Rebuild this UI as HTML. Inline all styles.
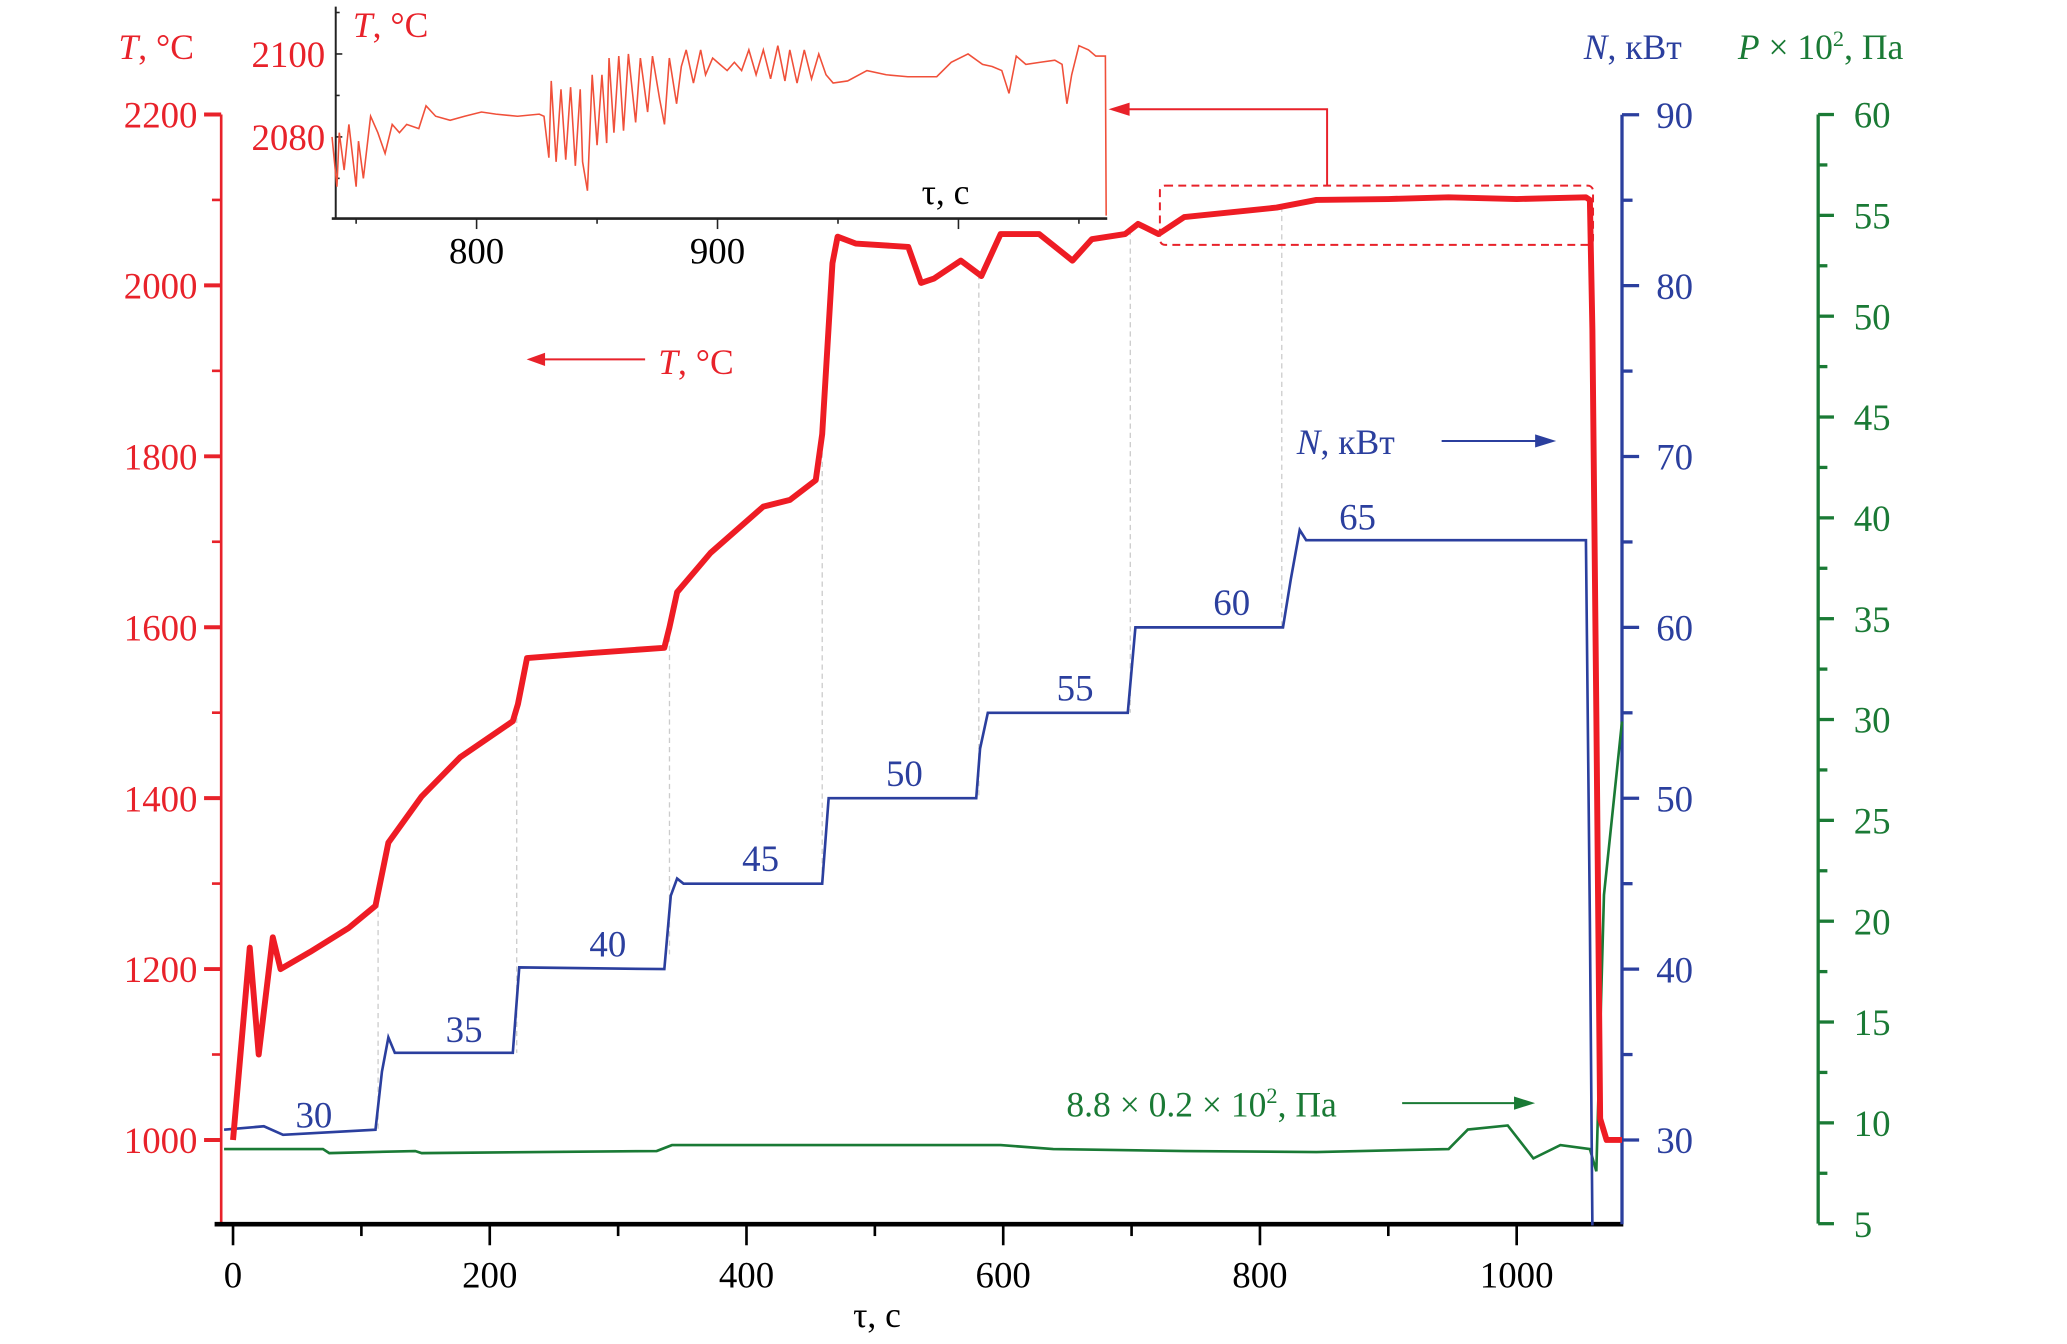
<!DOCTYPE html>
<html><head><meta charset="utf-8"><style>
html,body{margin:0;padding:0;background:#fff;}
svg{display:block;}
text{font-family:"Liberation Serif",serif;}
</style></head><body>
<svg id="chart" width="2067" height="1344" viewBox="0 0 1570 1021" preserveAspectRatio="none" xmlns="http://www.w3.org/2000/svg">
<g id="axes"></g>
<g id="guides"></g>
<g id="series"></g>
<g id="inset"></g>
<g id="annot">
  <text x="90" y="45" fill="#e8222a" font-size="27"><tspan font-style="italic">T</tspan>, °C</text>
  <text x="1203" y="45" fill="#2b3f9e" font-size="27"><tspan font-style="italic">N</tspan>, кВт</text>
  <text x="1320" y="45" fill="#1a7a35" font-size="27"><tspan font-style="italic">P</tspan> × 10<tspan font-size="17" dy="-10">2</tspan><tspan dy="10">, Па</tspan></text>
  <text x="648" y="1008" fill="#000" font-size="27">τ, с</text>
  <text x="268" y="28" fill="#e8222a" font-size="27"><tspan font-style="italic">T</tspan>, °C</text>
  <text x="700" y="155" fill="#000" font-size="27">τ, с</text>
  <g>
    <line x1="490" y1="273" x2="405" y2="273" stroke="#e8222a" stroke-width="1.5"/>
    <path d="M400,273 L414,268 L414,278 Z" fill="#e8222a"/>
    <text x="500" y="284" fill="#e8222a" font-size="27"><tspan font-style="italic">T</tspan>, °C</text>
  </g>
  <g>
    <text x="985" y="345" fill="#2b3f9e" font-size="27"><tspan font-style="italic">N</tspan>, кВт</text>
    <line x1="1095" y1="335" x2="1175" y2="335" stroke="#2b3f9e" stroke-width="1.5"/>
    <path d="M1182,335 L1166,330 L1166,340 Z" fill="#2b3f9e"/>
  </g>
  <g>
    <text x="810" y="848" fill="#1a7a35" font-size="27">8.8 × 0.2 × 10<tspan font-size="17" dy="-10">2</tspan><tspan dy="10">, Па</tspan></text>
    <line x1="1065" y1="838" x2="1158" y2="838" stroke="#1a7a35" stroke-width="1.5"/>
    <path d="M1166,838 L1150,833 L1150,843 Z" fill="#1a7a35"/>
  </g>
  <rect x="881" y="141" width="329" height="45" rx="4" fill="none" stroke="#e8222a" stroke-width="1.5" stroke-dasharray="6,4"/>
  <g>
    <polyline points="1008,141 1008,83 850,83" fill="none" stroke="#e8222a" stroke-width="1.5"/>
    <path d="M842,83 L858,78 L858,88 Z" fill="#e8222a"/>
  </g>
</g>
</svg>
<script>
// ===== main chart data =====
const tTime = [0,13,20,31,37,60,90,111,121,147,177,218,222,229,280,336,340,346,372,413,434,454,459,467,471,485,526,536,546,567,583,598,628,654,669,695,705,721,741,813,844,900,947,1000,1054,1057,1059,1062,1065,1070,1082];
const tVal  = [1000,1225,1100,1237,1200,1220,1248,1274,1348,1402,1448,1490,1510,1564,1570,1576,1600,1641,1687,1741,1749,1772,1826,2026,2057,2049,2045,2003,2008,2029,2011,2060,2060,2029,2054,2060,2072,2060,2080,2091,2100,2101,2103,2101,2103,2100,1949,1500,1025,1000,1000];
const nTime = [-7,24,39,111,116,121,126,218,223,336,341,346,351,459,464,579,582,588,697,703,818,824,831,836,1054,1057,1059];
const nVal  = [30.6,30.8,30.3,30.6,34,36,35.1,35.1,40.1,40,44.3,45.3,45,45,50,50,52.9,55,55,60,60,62.8,65.7,65.1,65.1,42.8,25];
const pTime = [-7,70,75,142,147,330,342,500,598,639,742,844,947,962,993,1013,1034,1057,1062,1068,1082];
const pVal  = [8.7,8.7,8.5,8.6,8.5,8.6,8.9,8.9,8.9,8.7,8.6,8.55,8.7,9.67,9.87,8.24,8.9,8.7,7.6,21.3,29.9];
const stepTimes = [113,221,340,459,581,699,817];
const stepLabels = ["30","35","40","45","50","55","60","65"];
const stepLabelT = [63,180,292,411,523,656,778,876];
const stepLabelN = [31.5,36.5,41.5,46.5,51.5,56.5,61.5,66.5];
const xTicks = [0,200,400,600,800,1000];
const tTicks = [1000,1200,1400,1600,1800,2000,2200];
const nTicks = [30,40,50,60,70,80,90];
const pTicks = [5,10,15,20,25,30,35,40,45,50,55,60];
// ===== inset data =====
const iTime = [740,742,743,745,747,750,751,753,756,759,762,765,768,771,776,779,783,789,795,802,808,817,826,828,830,831,833,835,837,839,841,843,844,846,848,850,852,854,855,857,859,861,863,866,868,871,873,876,878,880,883,885,887,890,893,895,898,901,904,907,910,913,916,919,922,925,928,930,933,936,939,942,945,948,954,962,970,979,991,997,1004,1010,1014,1018,1021,1024,1028,1034,1040,1043,1045,1047,1050,1054,1057,1061,1061.3];
const iVal  = [2080,2068,2081,2072,2083,2068,2079,2070,2085,2081,2076,2083,2081,2083,2082,2087.5,2085,2084,2085,2086,2085.5,2085,2085.5,2085,2075,2093.5,2074,2091.5,2074.5,2092,2073,2091.5,2074,2067,2095,2078,2095,2078.5,2099,2081,2099.5,2081.5,2100,2083.5,2099,2086,2099.5,2089,2083,2099,2088,2097,2101,2093,2101,2095,2099,2097.5,2096,2098,2096,2101,2095,2101,2094,2102,2093.5,2101,2093,2101,2094,2100,2095,2093,2093.5,2096,2095,2094.5,2094.5,2098,2100,2097.5,2097,2096,2090.5,2099.5,2097.5,2098,2098.5,2097.5,2088,2095,2102,2101,2099.5,2099.5,2061];
const iXTicks = [800,900];
const iTTicks = [2080,2100];

const NS = "http://www.w3.org/2000/svg";
const xS = t => 177 + t*0.975;
const yT = v => 866 - (v-1000)*0.6492;
const yN = v => 866 - (v-30)*12.98;
const yP = v => 853 - (v-10)*15.32;
const ixS = t => 362 + (t-800)*1.83;
const iyT = v => 104 - (v-2080)*3.15;

function mk(tag, attrs, parent){
  const e = document.createElementNS(NS, tag);
  for (const k in attrs) e.setAttribute(k, attrs[k]);
  parent.appendChild(e);
  return e;
}
function line(p,x1,y1,x2,y2,c,w){ return mk('line',{x1:x1,y1:y1,x2:x2,y2:y2,stroke:c,'stroke-width':w},p); }
function txt(p,x,y,s,c,size,anchor){ const e = mk('text',{x:x,y:y,fill:c,'font-size':size,'text-anchor':anchor||'start'},p); e.textContent=s; return e; }
function pathD(xs, ys, fx, fy){ return xs.map((t,i)=>(i?'L':'M')+fx(t).toFixed(1)+','+fy(ys[i]).toFixed(1)).join(' '); }
function interp(xs, ys, t){ for (let i=1; i < xs.length; i++){ if (t <= xs[i]){ const f=(t-xs[i-1])/(xs[i]-xs[i-1]); return ys[i-1]+f*(ys[i]-ys[i-1]); } } return ys[ys.length-1]; }

const axes = document.getElementById('axes');
const tAx = mk('g',{},axes);


line(tAx,168,yT(2200),168,930,'#e8222a',2);
for (let v=1000; v <= 2200; v+=100){ const maj = tTicks.includes(v); line(tAx, maj?155:161, yT(v), 168, yT(v), '#e8222a', maj?3:2); }
tTicks.forEach(v=>{ const e = txt(tAx,150,yT(v)+10,String(v),'#e8222a',28,'end');
  
   });
const xAx = mk('g',{},axes);


line(xAx,163,930,1233,930,'#000',3.5);
for (let t=0; t <= 1000; t+=100){ const maj = xTicks.includes(t); line(xAx,xS(t),930,xS(t),maj?946:939,'#000',2); }
xTicks.forEach(t=>{ const e = txt(xAx,xS(t),978,String(t),'#000',28,'middle');
  
   });
const nAx = mk('g',{},axes);


line(nAx,1232,yN(90),1232,930,'#2b3f9e',2.5);
for (let v=30; v <= 90; v+=5){ const maj = nTicks.includes(v); line(nAx,1232,yN(v),maj?1245:1240,yN(v),'#2b3f9e',2.5); }
nTicks.forEach(v=>{ const e = txt(nAx,1258,yN(v)+10,String(v),'#2b3f9e',28);
  
   });
const pAx = mk('g',{},axes);


line(pAx,1381,yP(60),1381,yP(5),'#1a7a35',2.5);
for (let v=5; v <= 60; v+=2.5){ const maj = pTicks.includes(v); line(pAx,1381,yP(v),maj?1393:1388,yP(v),'#1a7a35',2.5); }
pTicks.forEach(v=>{ const e = txt(pAx,1408,yP(v)+10,String(v),'#1a7a35',28);
  
   });

const guides = document.getElementById('guides');
stepTimes.forEach(t=>{
  const e = line(guides,xS(t),yT(interp(tTime,tVal,t)),xS(t),yN(interp(nTime,nVal,t-3)),'#cccccc',1);
  e.setAttribute('stroke-dasharray','4,3');
  
  
});

const ser = document.getElementById('series');
const pP = mk('path',{d:pathD(pTime,pVal,xS,yP),fill:'none',stroke:'#1a7a35','stroke-width':2},ser);


const nP = mk('path',{d:pathD(nTime,nVal,xS,yN),fill:'none',stroke:'#2b3f9e','stroke-width':2},ser);


const tP = mk('path',{d:pathD(tTime,tVal,xS,yT),fill:'none',stroke:'#ee1c24','stroke-width':4.5,'stroke-linejoin':'round'},ser);


stepLabels.forEach((s,i)=>{
  const e = txt(ser,xS(stepLabelT[i]),yN(stepLabelN[i])+10,s,'#2b3f9e',28,'middle');
  
  
});

const ins = document.getElementById('inset');
mk('rect',{x:250,y:0,width:595,height:170,fill:'#fff'},ins);
line(ins,255,5,255,166,'#222',1.5);
line(ins,252,166,841,166,'#222',2);
for (let t=750; t <= 1050; t+=50){ const maj = (t%100===0); line(ins,ixS(t),166,ixS(t),maj?174:170,'#222',1.2); }
for (let v=2070; v <= 2110; v+=10){ const maj = iTTicks.includes(v); line(ins,255,iyT(v),maj?260:258,iyT(v),'#222',1.2); }
iXTicks.forEach(t=>{ const e = txt(ins,ixS(t),200,String(t),'#000',28,'middle');
  
   });
iTTicks.forEach(v=>{ const e = txt(ins,247,iyT(v)+10,String(v),'#e8222a',28,'end');
  
   });
const iP = mk('path',{d:pathD(iTime,iVal,ixS,iyT),fill:'none',stroke:'#f0503a','stroke-width':1.2},ins);


document.getElementById('chart').appendChild(document.getElementById('annot'));
</script>
</body></html>
